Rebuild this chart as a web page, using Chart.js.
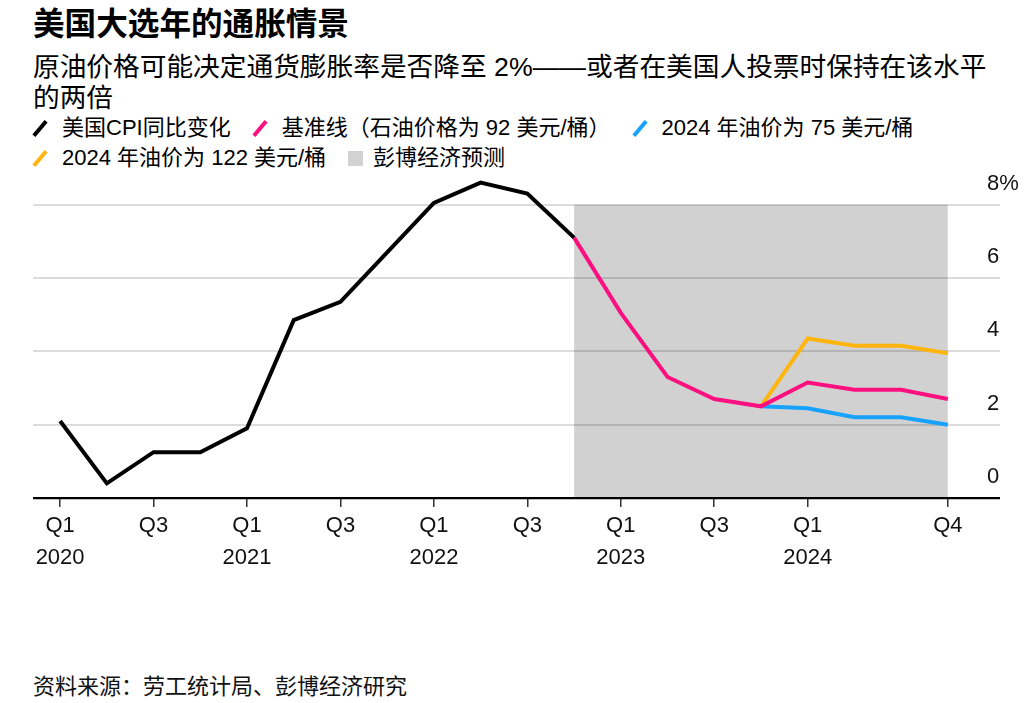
<!DOCTYPE html>
<html>
<head>
<meta charset="utf-8">
<script src="https://cdn.jsdelivr.net/npm/chart.js@4.4.1/dist/chart.umd.min.js"></script>
<style>
  body { margin: 0; background: #fff; width: 1024px; height: 703px; overflow: hidden; position: relative;
         font-family: "Liberation Sans", "Noto Sans CJK SC", sans-serif; color: #000; }
  .title { position: absolute; left: 33px; top: 7px; font-size: 31.6px; line-height: 34px; font-weight: bold; }
  .subtitle { position: absolute; left: 33px; top: 52px; font-size: 26.7px; line-height: 31px; white-space: nowrap; }
  #legend { position: absolute; left: 33px; top: 113px; width: 980px; font-size: 22px; }
  .row { display: flex; align-items: center; height: 30px; line-height: 30px; }
  .item { display: flex; align-items: center; margin-right: 22px; white-space: nowrap; height: 30px; }
  .swatch { flex: none; width: 15px; height: 30px; margin-right: 14px; position: relative; }
  .swatch.line i { position: absolute; left: 5px; top: 6px; width: 4px; height: 19px; transform: rotate(40deg); }
  .swatch.box { width: 15px; height: 15px; margin-right: 10px; margin-top: 1px; }
  #wrap { position: absolute; left: 0; top: 160px; width: 1024px; height: 420px; }
  .source { position: absolute; left: 33px; top: 672px; font-size: 22px; line-height: 30px; color: #111; }
</style>
</head>
<body>
<div class="title">美国大选年的通胀情景</div>
<div class="subtitle">原油价格可能决定通货膨胀率是否降至 2%——或者在美国人投票时保持在该水平<br>的两倍</div>
<div id="legend"></div>
<div id="wrap"><canvas id="myChart"></canvas></div>
<div class="source">资料来源：劳工统计局、彭博经济研究</div>
<script>
// quarterly, Q1 2020 .. Q4 2024 (index 0..19)
const quarters = ['2020Q1','2020Q2','2020Q3','2020Q4','2021Q1','2021Q2','2021Q3','2021Q4',
  '2022Q1','2022Q2','2022Q3','2022Q4','2023Q1','2023Q2','2023Q3','2023Q4',
  '2024Q1','2024Q2','2024Q3','2024Q4'];

const cpi = [2.1, 0.4, 1.25, 1.25, 1.9, 4.85, 5.35, 6.7, 8.05, 8.6, 8.3, 7.1];
const baselineStart = 11;
const baseline = [7.1, 5.05, 3.3, 2.7, 2.5, 3.15, 2.95, 2.95, 2.7];
const scenarioStart = 15;
const oil75 = [2.5, 2.45, 2.2, 2.2, 2.0];
const oil122 = [2.5, 4.35, 4.15, 4.15, 3.95];
const forecastSpan = [11, 19];
const forecastTop = 8;

const xTickIndex = [0, 2, 4, 6, 8, 10, 12, 14, 16, 19];
const xTickLabels = [['Q1','2020'], 'Q3', ['Q1','2021'], 'Q3', ['Q1','2022'], 'Q3',
  ['Q1','2023'], 'Q3', ['Q1','2024'], 'Q4'];
const yTicks = [0, 2, 4, 6, 8];
const yTickLabels = ['0', '2', '4', '6', '8%'];

const names = ['美国CPI同比变化', '基准线（石油价格为 92 美元/桶）', '2024 年油价为 75 美元/桶',
  '2024 年油价为 122 美元/桶', '彭博经济预测'];
const colors = ['#000000', '#fc0f7f', '#17a2ff', '#ffb50f', 'rgba(0,0,0,0.18)'];
const legendRows = [[0, 1, 2], [3, 4]];

const toPoints = (vals, start) => vals.map((v, i) => ({ x: start + i, y: v }));

// legend
const legend = document.getElementById('legend');
legendRows.forEach(row => {
  let html = '<div class="row">';
  row.forEach(i => {
    const sw = i === 4
      ? '<span class="swatch box" style="background:#d2d2d2"></span>'
      : '<span class="swatch line"><i style="background:' + colors[i] + '"></i></span>';
    html += '<span class="item">' + sw + '<span>' + names[i] + '</span></span>';
  });
  legend.insertAdjacentHTML('beforeend', html + '</div>');
});

const FONT = '"Liberation Sans", "Noto Sans CJK SC", sans-serif';

const lineDs = (label, data, color, order) => ({
  label, data, borderColor: color, borderWidth: 4, pointRadius: 0, tension: 0,
  fill: false, order, borderJoinStyle: 'miter'
});

new Chart(document.getElementById('myChart'), {
  type: 'line',
  data: {
    datasets: [
      lineDs(names[0], toPoints(cpi, 0), colors[0], 1),
      lineDs(names[1], toPoints(baseline, baselineStart), colors[1], 2),
      lineDs(names[2], toPoints(oil75, scenarioStart), colors[2], 3),
      lineDs(names[3], toPoints(oil122, scenarioStart), colors[3], 4),
      {
        label: names[4],
        data: forecastSpan.map(x => ({ x, y: forecastTop })),
        borderWidth: 0, pointRadius: 0, backgroundColor: colors[4], fill: 'origin', order: 5
      }
    ]
  },
  options: {
    responsive: true,
    maintainAspectRatio: false,
    animation: false,
    layout: { padding: { left: 33, right: 0, top: 8, bottom: 0 } },
    plugins: { legend: { display: false }, tooltip: { enabled: false } },
    scales: {
      x: {
        type: 'linear',
        min: -0.58,
        max: 19.26,
        border: { display: false },
        grid: { drawOnChartArea: false, drawTicks: true, tickLength: 9, color: '#333', lineWidth: 1.5 },
        afterBuildTicks: s => { s.ticks = xTickIndex.map(v => ({ value: v })); },
        afterFit: s => { s.height = 82; },
        ticks: {
          autoSkip: false, maxRotation: 0, padding: 3, color: '#111',
          font: { family: FONT, size: 22, lineHeight: 1.45 },
          callback: (v) => xTickLabels[xTickIndex.indexOf(v)]
        }
      },
      y: {
        position: 'right',
        min: 0,
        max: 9,
        border: { display: false },
        grid: {
          drawTicks: true, tickLength: 40,
          color: c => (c.tick && c.tick.value === 0 ? '#000' : '#dcdcdc'),
          lineWidth: c => (c.tick && c.tick.value === 0 ? 2.2 : 2)
        },
        afterBuildTicks: s => { s.ticks = yTicks.map(v => ({ value: v })); },
        afterFit: s => { s.width = 64; },
        ticks: {
          padding: -13, labelOffset: -21, color: '#111',
          font: { family: FONT, size: 22 },
          callback: (v) => yTickLabels[yTicks.indexOf(v)]
        }
      }
    }
  }
});
</script>
</body>
</html>
